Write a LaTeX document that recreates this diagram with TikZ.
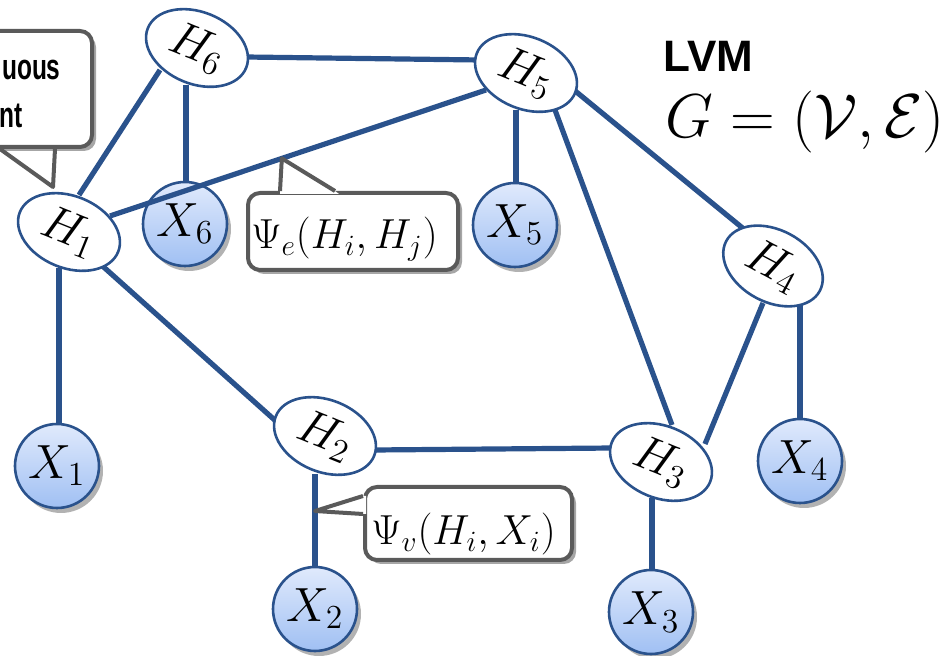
\RequirePackage{fix-cm}
\documentclass[tikz,border=0pt]{standalone}
\usepackage{fontspec}
\newfontfamily\calloutfont{Liberation Sans}[FakeStretch=0.68]
\newfontfamily\titlefont{Liberation Sans}
\usetikzlibrary{shapes.geometric,shadows,calc}
\pgfdeclarelayer{xlayer}
\pgfdeclarelayer{edgelayer}
\pgfsetlayers{xlayer,edgelayer,main}
\definecolor{edgeblue}{RGB}{42,82,140}
\definecolor{calloutgray}{RGB}{90,90,90}
\definecolor{xtop}{RGB}{224,234,252}
\definecolor{xbottom}{RGB}{160,192,243}
\begin{document}
\begin{tikzpicture}[x=0.5pt,y=-0.5pt,
  hnode/.style={ellipse, draw=edgeblue, line width=1.3pt, fill=white, inner sep=0pt,
    minimum width=53pt, minimum height=36pt, font=\fontsize{24}{28}\selectfont},
  xnode/.style={circle, draw=edgeblue, line width=1.3pt, top color=xtop, bottom color=xbottom,
    inner sep=0pt, minimum size=42pt, font=\fontsize{24}{28}\selectfont,
    drop shadow={shadow xshift=2pt, shadow yshift=-2.5pt, opacity=0.3, fill=black}},
  link/.style={draw=edgeblue, line width=2.6pt},
  callbox/.style={draw=calloutgray, line width=2pt, rounded corners=6pt, fill=white,
    inner sep=0pt, drop shadow={shadow xshift=2pt, shadow yshift=-2pt, opacity=0.35, fill=black}},
  pointerline/.style={draw=calloutgray, line width=2pt, line join=round},
  labeltext/.style={inner sep=0pt, font=\fontsize{21}{27}\selectfont},
  callouttext/.style={inner sep=0pt, font=\calloutfont\bfseries\fontsize{18}{22}\selectfont},
]
\useasboundingbox (0,0) rectangle (947,656);

% latent nodes
\node[hnode, rotate=-22] (H1) at (69,232) {$H_1$};
\node[hnode, rotate=-22] (H2) at (325,436) {$H_2$};
\node[hnode, rotate=-22] (H3) at (661,462) {$H_3$};
\node[hnode, rotate=-28] (H4) at (773,266) {$H_4$};
\node[hnode, rotate=-22] (H5) at (526,73) {$H_5$};
\node[hnode, rotate=-22] (H6) at (197,48) {$H_6$};

% observed nodes
\begin{pgfonlayer}{xlayer}
\node[xnode] (X1) at (57,466) {$X_1$};
\node[xnode] (X2) at (315,609) {$X_2$};
\node[xnode] (X3) at (651,612) {$X_3$};
\node[xnode] (X4) at (800,461) {$X_4$};
\node[xnode] (X5) at (515,225) {$X_5$};
\node[xnode] (X6) at (185,224) {$X_6$};
\end{pgfonlayer}

% edges
\begin{pgfonlayer}{edgelayer}
\draw[link] ($(H6)+(48,9)$) -- ($(H5)+(-46,-13)$);
\draw[link] ($(H6)+(-37,22)$) -- ($(H1)+(10,-37)$);
\draw[link] ($(H1)+(41,-16)$) -- coordinate[pos=0.457] (tipE) ($(H5)+(-40,17)$);
\draw[link] ($(H6)+(-11,37)$) -- ($(X6)+(1,-42)$);
\draw[link] ($(H5)+(-10,37)$) -- ($(X5)+(1,-42)$);
\draw[link] ($(H5)+(29,37)$) -- ($(H3)+(11,-37)$);
\draw[link] ($(H5)+(48,17)$) -- ($(H4)+(-28,-36)$);
\draw[link] ($(H4)+(-10,37)$) -- ($(H3)+(44,-18)$);
\draw[link] ($(H4)+(27,34)$) -- ($(X4)+(0,-42)$);
\draw[link] ($(H1)+(-10,36)$) -- ($(X1)+(2,-42)$);
\draw[link] ($(H1)+(29,30)$) -- ($(H2)+(-47,-13)$);
\draw[link] ($(H2)+(49,14)$) -- ($(H3)+(-47,-14)$);
\draw[link] ($(H2)+(-10,38)$) -- coordinate[pos=0.398] (tipV) ($(X2)+(0,-42)$);
\draw[link] ($(H3)+(-9,36)$) -- ($(X3)+(1,-42)$);
\end{pgfonlayer}

% top-left callout (cut by the picture edge)
\node[callbox, minimum width=86pt, minimum height=58pt] (PT) at (6,89) {};
\coordinate (tipT) at ($(H1)+(-16,-45)$);
\fill[white] ($(PT.south east)+(-94,3)$) -- ($(PT.south east)+(-94,0)$) -- (tipT) -- ($(PT.south east)+(-39,0)$) -- ($(PT.south east)+(-39,3)$) -- cycle;
\draw[pointerline] ($(PT.south east)+(-94,0)$) -- (tipT) -- ($(PT.south east)+(-39,0)$);
\node[callouttext, anchor=base east] (PT1) at (61,80) {uous};
\node[callouttext, anchor=base east] (PT2) at (23,128) {nt};

% edge potential callout
\node[callbox, minimum width=105pt, minimum height=38.5pt] (PE) at (353,231.5) {};
\fill[white] ($(PE.north west)+(34,3)$) -- ($(PE.north west)+(34,0)$) -- (tipE) -- ($(PE.north west)+(89,0)$) -- ($(PE.north west)+(93,3)$) -- cycle;
\draw[pointerline] ($(PE.north west)+(34,0)$) -- (tipE) -- ($(PE.north west)+(89,0)$);
\node[labeltext, anchor=base west] (PEt) at (251,249) {$\Psi_e\big(H_i,H_j\big)$};

% node potential callout
\node[callbox, minimum width=103.5pt, minimum height=36.5pt] (PV) at (468.5,523.5) {};
\fill[white] ($(PV.north west)+(3,11)$) -- ($(PV.north west)+(0,11)$) -- (tipV) -- ($(PV.north west)+(0,29)$) -- ($(PV.north west)+(3,29)$) -- cycle;
\draw[pointerline] ($(PV.north west)+(0,11)$) -- (tipV) -- ($(PV.north west)+(0,29)$);
\node[labeltext, anchor=base west] (PVt) at (371,545) {$\Psi_v(H_i,X_i)$};

% title
\node[inner sep=0pt, anchor=base west, font=\titlefont\bfseries\fontsize{22}{26}\selectfont] (T1) at (663,72) {LVM};
\node[inner sep=0pt, anchor=base west, font=\fontsize{31}{36}\selectfont] (T2) at (665,138) {$G=(\mathcal{V},\mathcal{E})$};
\end{tikzpicture}
\end{document}
